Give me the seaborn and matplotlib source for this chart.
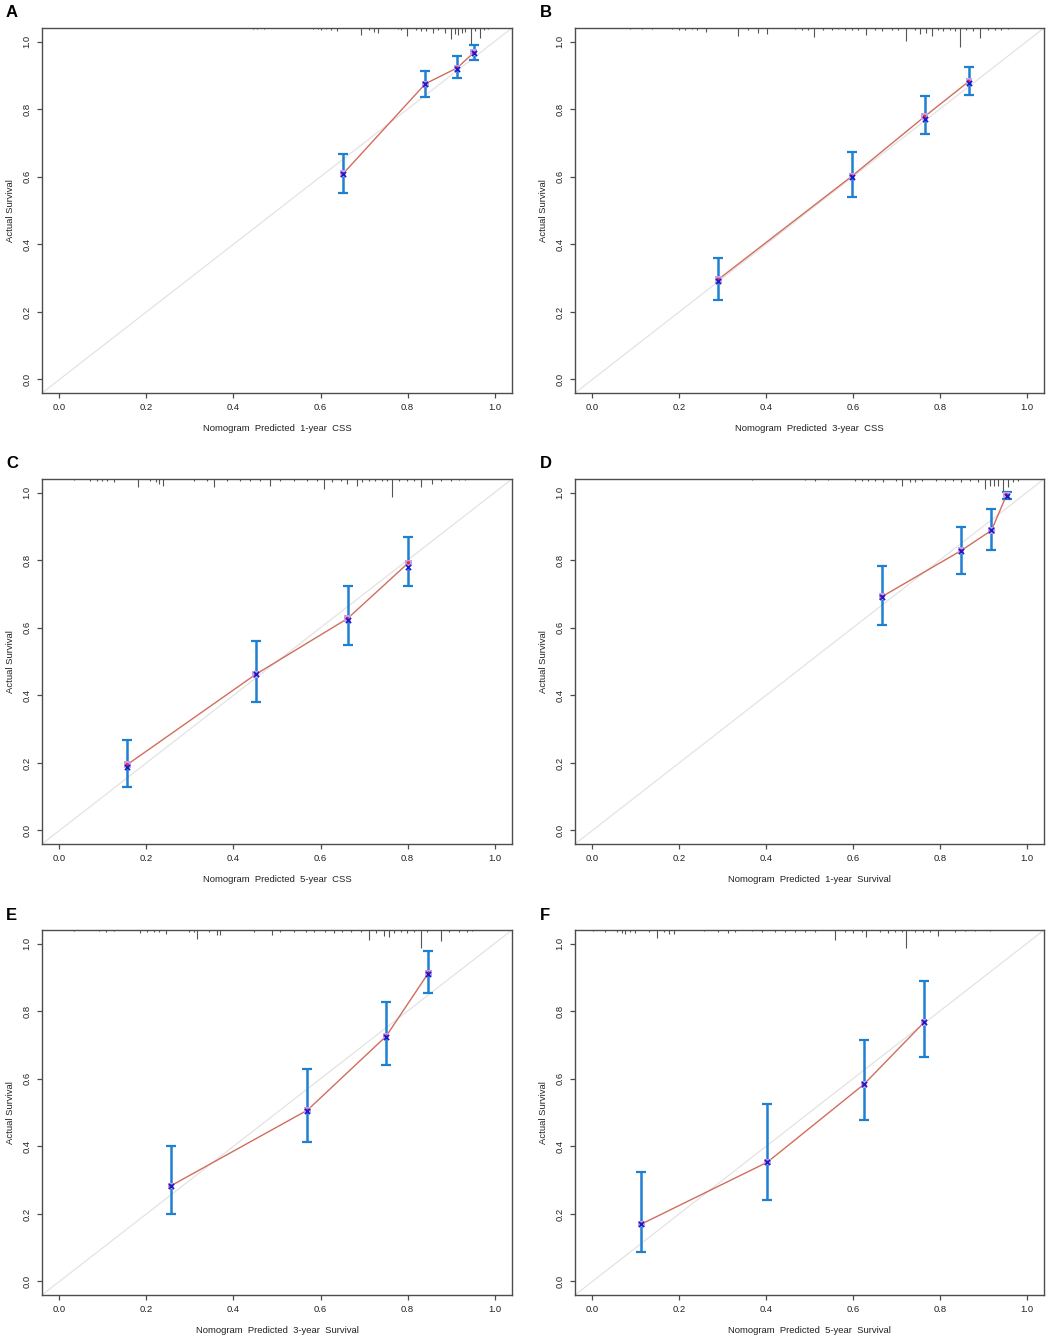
import numpy as np
import pandas as pd
import matplotlib
matplotlib.use("Agg")
import matplotlib.pyplot as plt
import seaborn as sns

# ---------------- data ----------------
panel_letters = ["A", "B", "C", "D", "E", "F"]
x_labels = [
    "Nomogram  Predicted  1-year  CSS",
    "Nomogram  Predicted  3-year  CSS",
    "Nomogram  Predicted  5-year  CSS",
    "Nomogram  Predicted  1-year  Survival",
    "Nomogram  Predicted  3-year  Survival",
    "Nomogram  Predicted  5-year  Survival",
]
y_label = "Actual Survival"
tick_values = [0.0, 0.2, 0.4, 0.6, 0.8, 1.0]
tick_labels = ["0.0", "0.2", "0.4", "0.6", "0.8", "1.0"]

# predicted (x), observed (y), bias-corrected (x marks), CI lower / upper
pred_A = [0.652, 0.841, 0.914, 0.952]
obs_A = [0.609, 0.875, 0.922, 0.967]
bc_A = [0.607, 0.873, 0.920, 0.966]
lo_A = [0.552, 0.836, 0.893, 0.946]
hi_A = [0.668, 0.914, 0.957, 0.989]

pred_B = [0.290, 0.598, 0.765, 0.867]
obs_B = [0.296, 0.602, 0.778, 0.882]
bc_B = [0.290, 0.600, 0.770, 0.876]
lo_B = [0.236, 0.540, 0.726, 0.841]
hi_B = [0.360, 0.673, 0.838, 0.926]

pred_C = [0.156, 0.451, 0.662, 0.802]
obs_C = [0.195, 0.462, 0.627, 0.792]
bc_C = [0.187, 0.462, 0.624, 0.780]
lo_C = [0.130, 0.379, 0.550, 0.723]
hi_C = [0.269, 0.562, 0.722, 0.867]

pred_D = [0.667, 0.849, 0.919, 0.954]
obs_D = [0.692, 0.828, 0.888, 0.993]
bc_D = [0.690, 0.828, 0.888, 0.991]
lo_D = [0.609, 0.760, 0.831, 0.981]
hi_D = [0.784, 0.899, 0.951, 1.002]

pred_E = [0.256, 0.570, 0.751, 0.848]
obs_E = [0.283, 0.507, 0.726, 0.913]
bc_E = [0.283, 0.505, 0.724, 0.911]
lo_E = [0.200, 0.412, 0.640, 0.855]
hi_E = [0.400, 0.628, 0.828, 0.979]

pred_F = [0.113, 0.403, 0.625, 0.764]
obs_F = [0.170, 0.353, 0.583, 0.767]
bc_F = [0.170, 0.353, 0.583, 0.767]
lo_F = [0.088, 0.240, 0.479, 0.663]
hi_F = [0.325, 0.526, 0.715, 0.889]

# distribution of predicted risk (rug at top): position and relative height
rug_x_A = [0.444, 0.455, 0.471, 0.582, 0.594, 0.601, 0.613, 0.624, 0.638, 0.692, 0.712, 0.722,
           0.732, 0.778, 0.785, 0.799, 0.820, 0.831, 0.843, 0.858, 0.870, 0.885, 0.899, 0.910,
           0.917, 0.925, 0.933, 0.945, 0.954, 0.966, 0.976, 0.985]
rug_h_A = [0.003, 0.003, 0.004, 0.004, 0.003, 0.005, 0.004, 0.005, 0.008, 0.020, 0.006, 0.012,
           0.014, 0.004, 0.006, 0.025, 0.006, 0.008, 0.010, 0.014, 0.006, 0.014, 0.034, 0.018,
           0.020, 0.016, 0.012, 0.051, 0.010, 0.031, 0.006, 0.004]

rug_x_B = [0.087, 0.114, 0.137, 0.183, 0.199, 0.214, 0.229, 0.241, 0.262, 0.336, 0.359, 0.382,
           0.401, 0.467, 0.482, 0.497, 0.511, 0.532, 0.551, 0.566, 0.582, 0.597, 0.612, 0.631,
           0.651, 0.666, 0.689, 0.704, 0.723, 0.743, 0.754, 0.769, 0.781, 0.796, 0.808, 0.823,
           0.835, 0.846, 0.861, 0.877, 0.892, 0.911, 0.927, 0.942, 0.957]
rug_h_B = [0.003, 0.004, 0.003, 0.004, 0.005, 0.006, 0.004, 0.005, 0.012, 0.023, 0.006, 0.015,
           0.018, 0.004, 0.005, 0.006, 0.028, 0.005, 0.006, 0.004, 0.007, 0.006, 0.005, 0.022,
           0.006, 0.008, 0.005, 0.006, 0.037, 0.006, 0.018, 0.016, 0.025, 0.007, 0.008, 0.006,
           0.008, 0.055, 0.006, 0.008, 0.031, 0.006, 0.005, 0.006, 0.004]

rug_x_C = [0.033, 0.071, 0.087, 0.098, 0.110, 0.125, 0.181, 0.209, 0.221, 0.228, 0.238, 0.309,
           0.340, 0.356, 0.386, 0.416, 0.439, 0.462, 0.485, 0.508, 0.539, 0.569, 0.592, 0.608,
           0.627, 0.646, 0.661, 0.683, 0.696, 0.711, 0.726, 0.742, 0.753, 0.765, 0.780, 0.799,
           0.815, 0.832, 0.857, 0.876, 0.899, 0.918, 0.933]
rug_h_C = [0.004, 0.005, 0.006, 0.006, 0.005, 0.010, 0.024, 0.006, 0.008, 0.015, 0.020, 0.005,
           0.006, 0.025, 0.006, 0.005, 0.007, 0.006, 0.020, 0.006, 0.006, 0.005, 0.006, 0.030,
           0.008, 0.006, 0.015, 0.020, 0.008, 0.006, 0.007, 0.006, 0.006, 0.054, 0.006, 0.005,
           0.006, 0.025, 0.015, 0.005, 0.006, 0.004, 0.004]

rug_x_D = [0.367, 0.490, 0.513, 0.543, 0.605, 0.620, 0.635, 0.651, 0.670, 0.700, 0.712, 0.731,
           0.743, 0.758, 0.792, 0.812, 0.831, 0.850, 0.869, 0.888, 0.904, 0.915, 0.925, 0.934,
           0.946, 0.957, 0.969, 0.980]
rug_h_D = [0.003, 0.004, 0.005, 0.004, 0.005, 0.006, 0.005, 0.006, 0.010, 0.005, 0.022, 0.008,
           0.010, 0.007, 0.006, 0.007, 0.006, 0.008, 0.007, 0.008, 0.031, 0.020, 0.020, 0.020,
           0.040, 0.025, 0.010, 0.005]

rug_x_E = [0.033, 0.090, 0.106, 0.125, 0.186, 0.202, 0.217, 0.228, 0.244, 0.297, 0.309, 0.316,
           0.343, 0.362, 0.370, 0.447, 0.489, 0.508, 0.539, 0.566, 0.585, 0.611, 0.631, 0.650,
           0.669, 0.692, 0.711, 0.727, 0.746, 0.757, 0.769, 0.784, 0.799, 0.815, 0.830, 0.845,
           0.876, 0.895, 0.918, 0.937, 0.949]
rug_h_E = [0.003, 0.004, 0.006, 0.004, 0.008, 0.006, 0.007, 0.006, 0.013, 0.005, 0.006, 0.028,
           0.006, 0.015, 0.015, 0.005, 0.016, 0.005, 0.006, 0.005, 0.007, 0.006, 0.008, 0.006,
           0.007, 0.006, 0.030, 0.008, 0.018, 0.022, 0.008, 0.007, 0.008, 0.006, 0.054, 0.006,
           0.034, 0.006, 0.005, 0.005, 0.004]

rug_x_F = [0.002, 0.030, 0.057, 0.068, 0.076, 0.087, 0.099, 0.130, 0.149, 0.164, 0.176, 0.187,
           0.256, 0.290, 0.312, 0.329, 0.367, 0.390, 0.421, 0.444, 0.467, 0.490, 0.513, 0.559,
           0.582, 0.601, 0.620, 0.631, 0.662, 0.681, 0.697, 0.712, 0.723, 0.743, 0.762, 0.777,
           0.796, 0.835, 0.858, 0.881, 0.915]
rug_h_F = [0.003, 0.005, 0.006, 0.008, 0.012, 0.006, 0.008, 0.006, 0.023, 0.005, 0.012, 0.013,
           0.004, 0.005, 0.010, 0.005, 0.004, 0.005, 0.006, 0.005, 0.006, 0.005, 0.005, 0.030,
           0.006, 0.008, 0.006, 0.022, 0.006, 0.008, 0.006, 0.005, 0.054, 0.006, 0.005, 0.006,
           0.018, 0.005, 0.004, 0.004, 0.003]

panels = [
    (pred_A, obs_A, bc_A, lo_A, hi_A, rug_x_A, rug_h_A),
    (pred_B, obs_B, bc_B, lo_B, hi_B, rug_x_B, rug_h_B),
    (pred_C, obs_C, bc_C, lo_C, hi_C, rug_x_C, rug_h_C),
    (pred_D, obs_D, bc_D, lo_D, hi_D, rug_x_D, rug_h_D),
    (pred_E, obs_E, bc_E, lo_E, hi_E, rug_x_E, rug_h_E),
    (pred_F, obs_F, bc_F, lo_F, hi_F, rug_x_F, rug_h_F),
]

# ---------------- style ----------------
sns.set_theme(style="ticks")
plt.rcParams["font.family"] = ["Liberation Sans", "DejaVu Sans"]
plt.rcParams["axes.linewidth"] = 1.0

W, H = 1048, 1339
fig = plt.figure(figsize=(W / 100, H / 100), dpi=100)

# axes boxes in pixels: (left, top, right, bottom)
boxes = [
    (42, 28, 512, 393), (575, 28, 1044, 393),
    (42, 479, 512, 844), (575, 479, 1044, 844),
    (42, 930, 512, 1295), (575, 930, 1044, 1295),
]
letter_pos = [(6, 5), (540, 5), (6, 456), (540, 456), (6, 908), (540, 908)]

frame_col = "#4d4d4d"
red_col = "#d26d5c"
blue_col = "#1f7fd1"
lim = (-0.04, 1.04)

for i, (pred, obs, bc, lo, hi, rx, rh) in enumerate(panels):
    l, t, r, b = boxes[i]
    ax = fig.add_axes([l / W, 1 - b / H, (r - l) / W, (b - t) / H])
    ax.set_xlim(lim)
    ax.set_ylim(lim)

    # ideal line
    diag = pd.DataFrame({"x": [lim[0], lim[1]], "y": [lim[0], lim[1]]})
    sns.lineplot(data=diag, x="x", y="y", ax=ax, color="#e3e3e3", lw=0.9, zorder=1)

    # rug of predicted risk distribution from top
    rx = np.asarray(rx)
    rh = np.asarray(rh)
    ax.vlines(rx, lim[1] - rh, lim[1], color="#555555", lw=0.8, zorder=2)

    df = pd.DataFrame({"pred": pred, "obs": obs, "bc": bc, "lo": lo, "hi": hi})
    # error bars
    ax.errorbar(df["pred"], df["obs"],
                yerr=[df["obs"] - df["lo"], df["hi"] - df["obs"]],
                fmt="none", ecolor=blue_col, elinewidth=1.8, capsize=3.3,
                capthick=1.6, zorder=3)
    # observed line
    sns.lineplot(data=df, x="pred", y="obs", ax=ax, sort=False, color=red_col,
                 lw=1.0, zorder=4)
    sns.scatterplot(data=df, x="pred", y="obs", ax=ax, color="#c8a0e8", marker="s",
                    s=22, edgecolor="none", zorder=5)
    sns.scatterplot(data=df, x="pred", y="obs", ax=ax, color="#e03030", marker="o",
                    s=6, edgecolor="none", zorder=6)
    sns.scatterplot(data=df, x="pred", y="bc", ax=ax, color="#1a1acc", marker="x",
                    s=14, linewidth=1.2, zorder=7)

    ax.set_xticks(tick_values)
    ax.set_xticklabels(tick_labels)
    ax.set_yticks(tick_values)
    ax.set_yticklabels(tick_labels, rotation=90, va="center")
    ax.tick_params(axis="both", direction="out", length=3.5, width=0.9,
                   color=frame_col, labelsize=6.8, labelcolor="#222222", pad=4)
    for s in ax.spines.values():
        s.set_color(frame_col)
        s.set_linewidth(1.0)
        s.set_visible(True)
    ax.set_xlabel(x_labels[i], fontsize=6.8, color="#222222", labelpad=8.5)
    ax.set_ylabel(y_label, fontsize=6.8, color="#222222", labelpad=5.5)
    ax.grid(False)

    lx, ly = letter_pos[i]
    fig.text(lx / W, 1 - ly / H, panel_letters[i], fontsize=12, fontweight="bold",
             va="top", ha="left", color="#000000")

fig.savefig("out.png", dpi=100, facecolor="white")
